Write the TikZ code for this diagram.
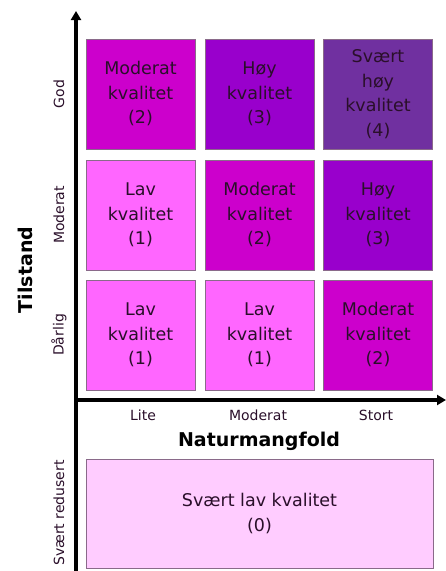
\documentclass[tikz,border=0pt]{standalone}
\usepackage{fontspec}
\setmainfont{DejaVu Sans}
\usetikzlibrary{arrows.meta}
\definecolor{lav}{HTML}{FF66FF}
\definecolor{mod}{HTML}{CC00CC}
\definecolor{hoy}{HTML}{9900CC}
\definecolor{shoy}{HTML}{7030A0}
\definecolor{slav}{HTML}{FFCCFF}
\definecolor{txt}{HTML}{2A0F2A}
\definecolor{edge}{HTML}{8A6A8A}
\begin{document}
\begin{tikzpicture}[x=1pt,y=-1pt,
  cell/.style={draw=edge, line width=0.8pt, minimum width=109pt, minimum height=110pt, inner sep=0pt, align=center, text=txt, font=\fontsize{17.5}{24.5}\selectfont},
  axlab/.style={font=\fontsize{14}{16}\selectfont, text=txt},
  axtitle/.style={font=\bfseries\fontsize{19}{21}\selectfont, text=black},
  axis/.style={line width=3.2pt, -{Triangle[length=9pt,width=10pt]}}]
\useasboundingbox (0,0) rectangle (446,571);
% cells
\node[cell, fill=mod]  (c11) at (140.5,94) {Moderat\\kvalitet\\(2)};
\node[cell, fill=hoy]  (c12) at (259.5,94) {Høy\\kvalitet\\(3)};
\node[cell, fill=shoy] (c13) at (378,94) {Svært\\høy\\kvalitet\\(4)};
\node[cell, fill=lav]  (c21) at (140.5,215) {Lav\\kvalitet\\(1)};
\node[cell, fill=mod]  (c22) at (259.5,215) {Moderat\\kvalitet\\(2)};
\node[cell, fill=hoy]  (c23) at (378,215) {Høy\\kvalitet\\(3)};
\node[cell, fill=lav]  (c31) at (140.5,335) {Lav\\kvalitet\\(1)};
\node[cell, fill=lav]  (c32) at (259.5,335) {Lav\\kvalitet\\(1)};
\node[cell, fill=mod]  (c33) at (378,335) {Moderat\\kvalitet\\(2)};
\node[cell, fill=slav, minimum width=347pt, minimum height=109pt] (c0) at (259.5,513.5) {Svært lav kvalitet\\(0)};
% axes
\coordinate (o) at (76,400);
\coordinate (ytop) at (76,11);
\coordinate (ybot) at (76,571);
\coordinate (xend) at (446,400);
\draw[axis] (ybot) -- (ytop);
\draw[axis] (o) -- (xend);
% labels
\node[axlab, rotate=90] (lgod) at (59,94) {God};
\node[axlab, rotate=90] (lmod) at (59,215) {Moderat};
\node[axlab, rotate=90] (ldar) at (59,335) {Dårlig};
\node[axlab, rotate=90] (lsvr) at (59,513) {Svært redusert};
\node[axtitle, rotate=90] (ltil) at (25,270) {Tilstand};
\node[axlab] (llite) at (143,415) {Lite};
\node[axlab] (lmodx) at (258,415) {Moderat};
\node[axlab] (lstort) at (376,415) {Stort};
\node[axtitle] (lnat) at (259,441) {Naturmangfold};
\end{tikzpicture}
\end{document}
